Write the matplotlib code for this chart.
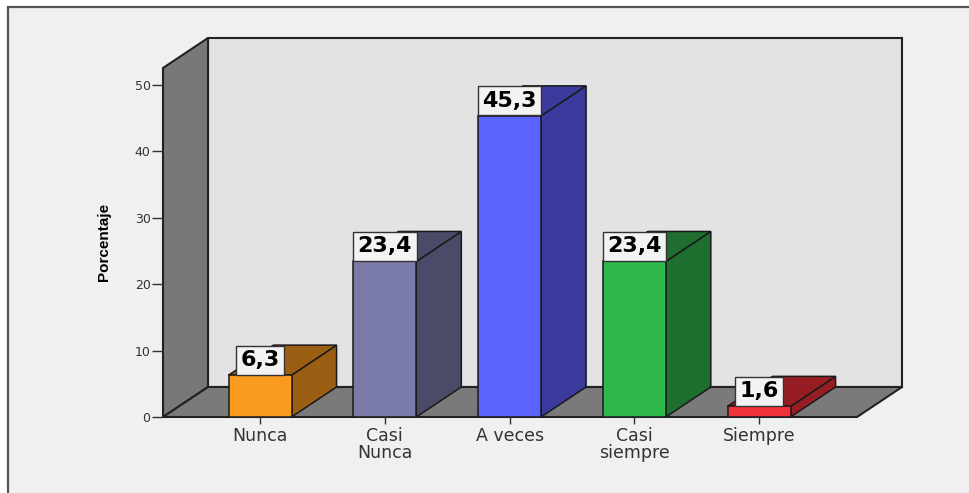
import matplotlib
matplotlib.use("Agg")
import matplotlib.pyplot as plt
from matplotlib.patches import Polygon, Rectangle

# Frecuencia de respuesta (%)
categorias = ["Nunca", "Casi\nNunca", "A veces", "Casi\nsiempre", "Siempre"]
porcentajes = [6.3, 23.4, 45.3, 23.4, 1.6]
etiquetas = ["6,3", "23,4", "45,3", "23,4", "1,6"]
y_ticks = [0, 10, 20, 30, 40, 50]

color_frente = ["#f99b1f", "#7b7ba9", "#5b62fe", "#2fb84c", "#f03338"]
color_lado = ["#9a5f12", "#4b4b69", "#3a3b9c", "#1e6e2f", "#961e22"]

W_PX, H_PX, DPI = 970, 493, 100
fig = plt.figure(figsize=(W_PX / DPI, H_PX / DPI), dpi=DPI)
fig.patch.set_facecolor("white")

# marco del grafico
marco = Rectangle((8 / W_PX, -0.05), 1.05, 1 - 7 / H_PX + 0.05,
                  transform=fig.transFigure, facecolor="#f0f0f0",
                  edgecolor="#555555", linewidth=1.6, zorder=-10)
fig.add_artist(marco)

# plano frontal del grafico en pixeles
left, right, bottom, top = 163, 857, 417, 68
ax = fig.add_axes([left / W_PX, (H_PX - bottom) / H_PX,
                   (right - left) / W_PX, (bottom - top) / H_PX])
ax.patch.set_alpha(0)
for s in ax.spines.values():
    s.set_visible(False)

x0, x1 = -0.778, 4.785
y0, y1 = 0, 52.5
ax.set_xlim(x0, x1)
ax.set_ylim(y0, y1)

# profundidad 3D (pixeles -> unidades de datos)
dx = 45 * (x1 - x0) / (right - left)
dy = 30 * (y1 - y0) / (bottom - top)

borde = "#222222"
pared_izq = Polygon([(x0, y0), (x0, y1), (x0 + dx, y1 + dy), (x0 + dx, y0 + dy)],
                    closed=True, facecolor="#787878", edgecolor=borde, lw=1.5,
                    clip_on=False, zorder=1)
pared_fondo = Polygon([(x0 + dx, y0 + dy), (x1 + dx, y0 + dy), (x1 + dx, y1 + dy),
                       (x0 + dx, y1 + dy)], closed=True, facecolor="#e3e3e3",
                      edgecolor=borde, lw=1.5, clip_on=False, zorder=1)
piso = Polygon([(x0, y0), (x1, y0), (x1 + dx, y0 + dy), (x0 + dx, y0 + dy)],
               closed=True, facecolor="#7a7a7a", edgecolor=borde, lw=1.5,
               clip_on=False, zorder=1)
for p in (pared_fondo, pared_izq, piso):
    ax.add_patch(p)

ancho = 0.505
xs = list(range(len(categorias)))
ax.bar(xs, porcentajes, width=ancho, color=color_frente, edgecolor="#1a1a1a",
       linewidth=1.1, zorder=3)

for i, v in enumerate(porcentajes):
    xl, xr = i - ancho / 2, i + ancho / 2
    lado = Polygon([(xr, 0), (xr + dx, dy), (xr + dx, v + dy), (xr, v)], closed=True,
                   facecolor=color_lado[i], edgecolor="#1a1a1a", lw=1.1, zorder=2)
    tapa = Polygon([(xl, v), (xr, v), (xr + dx, v + dy), (xl + dx, v + dy)], closed=True,
                   facecolor=color_lado[i], edgecolor="#1a1a1a", lw=1.1, zorder=2)
    ax.add_patch(lado)
    ax.add_patch(tapa)
    ax.text(i, v + dy / 2, etiquetas[i], ha="center", va="center",
            fontsize=16, fontweight="bold", family="DejaVu Sans", color="black",
            zorder=5,
            bbox=dict(boxstyle="square,pad=0.2", facecolor="#f3f3f3",
                      edgecolor="#333333", linewidth=1.0))

ax.set_yticks(y_ticks)
ax.set_yticklabels([str(t) for t in y_ticks])
ax.tick_params(axis="y", direction="out", length=8, width=1.0, color="#333333",
               labelsize=9, labelcolor="#333333", pad=1)
ax.set_xticks(xs)
ax.set_xticklabels(categorias, linespacing=0.95)
ax.tick_params(axis="x", direction="out", length=5, width=1.0, color="#333333",
               labelsize=12.5, labelcolor="#333333", pad=2)

fig.text(104.5 / W_PX, 1 - 241.5 / H_PX, "Porcentaje", rotation=90,
         ha="center", va="center", fontsize=11, fontweight="bold",
         family="Liberation Sans", color="black")

fig.savefig("out.png", dpi=DPI)
